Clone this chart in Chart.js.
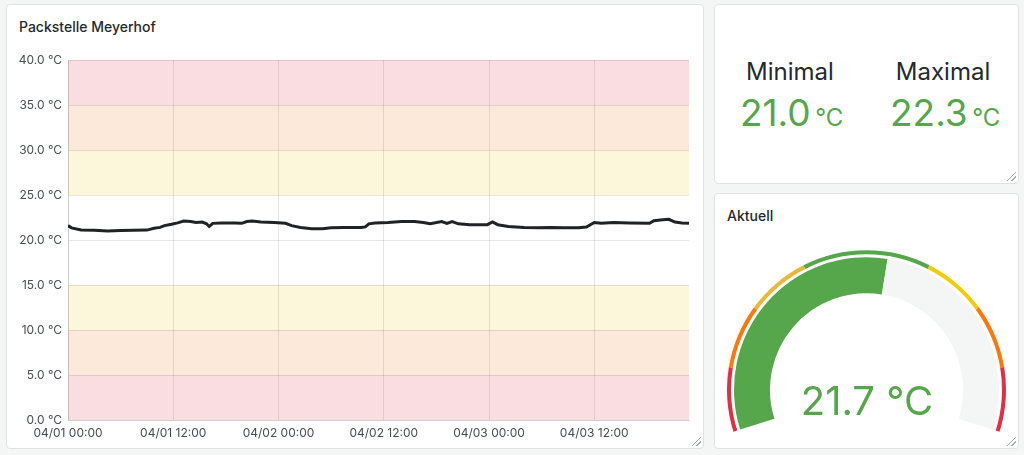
<!DOCTYPE html>
<html>
<head>
<meta charset="utf-8">
<script src="https://cdn.jsdelivr.net/npm/chart.js@4.4.1/dist/chart.umd.min.js"></script>
<style>
  html, body { margin:0; padding:0; }
  body { width:1024px; height:455px; background:#f4f5f5; position:relative; overflow:hidden; font-family:Inter, "Noto Sans", sans-serif; color:#24292e; }
  .panel { position:absolute; background:#fff; border:1px solid #e0e2e4; border-radius:4px; box-sizing:border-box; }
  .panel .title { position:absolute; font-size:14px; font-weight:500; color:#24292e; }
  .grip { position:absolute; right:2px; bottom:2px; width:9px; height:9px;
    background:linear-gradient(135deg, transparent 45%, #a7abb0 46%, #a7abb0 54%, transparent 55%, transparent 70%, #a7abb0 71%, #a7abb0 79%, transparent 80%); }
  .abs { position:absolute; white-space:nowrap; }
  .lbl { font-size:24px; color:#24292e; transform:translateX(-50%); }
  .val { font-size:37px; color:#56a64b; }
  .unit { font-size:24px; color:#56a64b; }
  canvas { position:absolute; }
</style>
</head>
<body>
<div class="panel" style="left:6px;top:4px;width:698px;height:445px;">
  <div class="title" style="left:12px;top:13px;">Packstelle Meyerhof</div>
  <div class="grip"></div>
</div>
<div class="panel" style="left:714px;top:4px;width:305px;height:180px;">
  <div class="grip"></div>
</div>
<div class="panel" style="left:714px;top:193px;width:305px;height:256px;">
  <div class="title" style="left:12px;top:13px;">Aktuell</div>
  <div class="grip"></div>
</div>

<canvas id="chartTemp" width="692" height="402" style="left:10px;top:45px;width:692px;height:402px;"></canvas>
<canvas id="chartGauge" width="279" height="182" style="left:727px;top:250px;width:279px;height:182px;"></canvas>

<div class="abs lbl" style="left:790px;top:57px;">Minimal</div>
<div class="abs lbl" style="left:943px;top:57px;">Maximal</div>
<div class="abs" id="minBox" style="left:740px;top:90px;"></div>
<div class="abs" id="maxBox" style="left:890px;top:90px;"></div>
<div class="abs" id="gaugeText" style="left:867px;top:376px;transform:translateX(-50%);font-size:40px;color:#56a64b;"></div>

<script>
// hours since 04/01 00:00
const hours = [0, 0.4, 1.5, 3, 4.5, 6, 9, 9.8, 10.5, 11, 11.8, 12.5, 13.2, 14, 14.6, 15.3, 15.8, 16.1, 16.5, 17.5,
  19, 19.8, 20.4, 21, 22, 23.5, 24.8, 25.5, 26.5, 27.8, 29, 30, 31.5, 33.4, 33.9, 34.3, 35, 36.5, 38, 39.5,
  40.5, 41.3, 42.6, 43.2, 43.8, 44.5, 45.8, 47.8, 48.4, 49, 50.2, 52, 53.5, 55, 56.5, 58.2, 59.1, 60, 60.8, 62.2,
  64, 66.3, 66.8, 67.8, 68.5, 69.2, 70, 70.8];
const temps = [21.6, 21.35, 21.12, 21.08, 21.0, 21.05, 21.1, 21.3, 21.4, 21.6, 21.75, 21.9, 22.1, 22.05, 21.95, 22.0, 21.8, 21.5, 21.85, 21.9,
  21.9, 21.85, 22.05, 22.1, 22.0, 21.95, 21.85, 21.6, 21.4, 21.25, 21.25, 21.35, 21.4, 21.38, 21.45, 21.8, 21.9, 21.95, 22.05, 22.05,
  21.95, 21.8, 22.05, 21.85, 22.05, 21.8, 21.7, 21.7, 22.0, 21.7, 21.5, 21.4, 21.35, 21.4, 21.35, 21.35, 21.45, 21.95, 21.85, 21.95,
  21.9, 21.85, 22.15, 22.25, 22.3, 22.0, 21.9, 21.85];
const xMax = 70.8;
const yTicksMax = 40;

// thresholds (°C) shared by graph bands and gauge ring
const bandFrom   = [0, 5, 10, 15, 25, 30, 35];
const bandTo     = [5, 10, 15, 25, 30, 35, 40];
const bandFill   = ['#fadde1', '#fde9da', '#fcf6da', 'rgba(0,0,0,0)', '#fcf6da', '#fde9da', '#fadde1'];
const ringColors = ['#e02f44', '#ff780a', '#eab839', '#56a64b', '#f2cc0c', '#ff780a', '#e02f44'];

const minVal = 21.0, maxVal = 22.3, currentVal = 21.7;

document.getElementById('minBox').innerHTML = `<span class="val">${minVal.toFixed(1)}</span> <span class="unit">°C</span>`;
document.getElementById('maxBox').innerHTML = `<span class="val">${maxVal.toFixed(1)}</span> <span class="unit">°C</span>`;
document.getElementById('gaugeText').textContent = currentVal.toFixed(1) + ' °C';

function fmtHour(h) {
  const day = 1 + Math.floor(h / 24);
  const hh = String(h % 24).padStart(2, '0');
  return '04/0' + day + ' ' + hh + ':00';
}

const bandPlugin = {
  id: 'bands',
  beforeDraw(chart) {
    const { ctx, chartArea: a, scales: { y } } = chart;
    ctx.save();
    bandFrom.forEach((f, i) => {
      const top = y.getPixelForValue(bandTo[i]), bot = y.getPixelForValue(f);
      ctx.fillStyle = bandFill[i];
      ctx.fillRect(a.left, top, a.right - a.left, bot - top);
    });
    ctx.restore();
  }
};

const gridColor = 'rgba(36,41,46,0.12)';
const tickFont = { family: 'Inter', size: 12 };

new Chart(document.getElementById('chartTemp'), {
  type: 'line',
  data: { datasets: [{
    data: hours.map((h, i) => ({ x: h, y: temps[i] })),
    borderColor: '#202226', borderWidth: 3, pointRadius: 0, tension: 0, fill: false
  }]},
  options: {
    responsive: false, animation: false,
    layout: { padding: { top: 15, right: 13, left: 0, bottom: 0 } },
    plugins: { legend: { display: false }, tooltip: { enabled: false } },
    scales: {
      x: { type: 'linear', min: 0, max: xMax,
        grid: { color: gridColor, drawTicks: false }, border: { color: gridColor },
        ticks: { stepSize: 12, includeBounds: false, maxRotation: 0, autoSkip: false, padding: 6, color: '#464c54', font: tickFont,
          callback: v => fmtHour(v) },
        afterFit: s => { s.height = 27; } },
      y: { min: 0, max: yTicksMax,
        grid: { color: gridColor, drawTicks: false }, border: { color: gridColor },
        ticks: { stepSize: 5, padding: 6, color: '#464c54', font: tickFont, callback: v => v.toFixed(1) + ' °C' },
        afterFit: s => { s.width = 58; } }
    }
  },
  plugins: [bandPlugin]
});

new Chart(document.getElementById('chartGauge'), {
  type: 'doughnut',
  data: { datasets: [
    { data: bandTo.map((t, i) => t - bandFrom[i]), backgroundColor: ringColors, weight: 4 },
    { data: [yTicksMax], backgroundColor: ['rgba(0,0,0,0)'], weight: 3 },
    { data: [currentVal, yTicksMax - currentVal], backgroundColor: ['#56a64b', '#f4f5f5'], weight: 36 }
  ]},
  options: {
    responsive: false, animation: false,
    rotation: -107.5, circumference: 215, cutout: '69.2%',
    borderWidth: 0, hoverOffset: 0,
    layout: { padding: 0 },
    plugins: { legend: { display: false }, tooltip: { enabled: false } }
  }
});
</script>
</body>
</html>
